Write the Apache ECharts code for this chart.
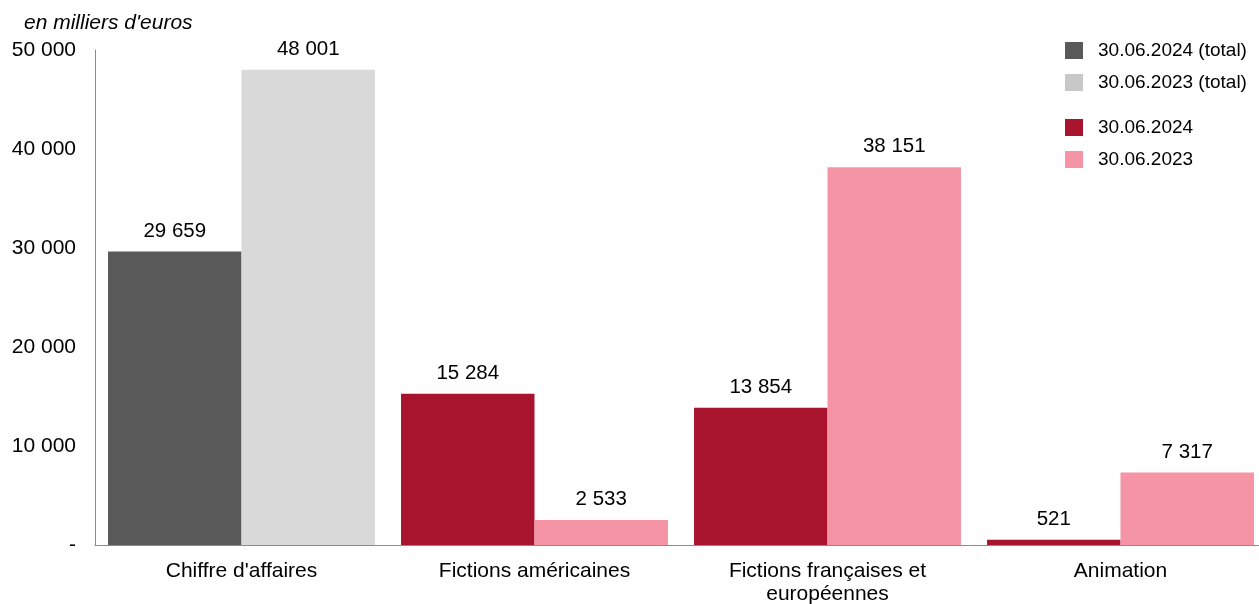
<!DOCTYPE html>
<html><head><meta charset="utf-8">
<script src="https://cdn.jsdelivr.net/npm/echarts@6/dist/echarts.min.js"></script>
<style>html,body{margin:0;padding:0;background:#fff;overflow:hidden}#c{width:1259px;height:604px}</style>
</head><body><div id="c"></div>
<script>
const categories = ["Chiffre d'affaires", "Fictions américaines", "Fictions françaises et\neuropéennes", "Animation"];
const total2024 = [29659, '-', '-', '-'];
const total2023 = [48001, '-', '-', '-'];
const val2024 = ['-', 15284, 13854, 521];
const val2023 = ['-', 2533, 38151, 7317];
const yTicks = [0, 10000, 20000, 30000, 40000, 50000];

const fmt = v => v === 0 ? '-' : String(v).replace(/\B(?=(\d{3})+(?!\d))/g, ' ');
const font = 'Liberation Sans, Arial, sans-serif';
const lbl = {show: true, position: 'top', distance: 10, color: '#000', fontSize: 20.5, fontFamily: font, formatter: p => fmt(p.value)};

const chart = echarts.init(document.getElementById('c'), null, {renderer: 'canvas'});
chart.setOption({
  animation: false,
  title: {text: 'en milliers d\'euros', left: 19, top: 8, textStyle: {fontStyle: 'italic', fontWeight: 'normal', fontSize: 21, color: '#000', fontFamily: font}},
  legend: [
    {data: [{name: '30.06.2024 (total)'}, {name: '30.06.2023 (total)', itemStyle: {color: '#c8c8c8'}}], orient: 'vertical', left: 1060, top: 36, itemWidth: 18, itemHeight: 17, itemGap: 13, icon: 'rect', textStyle: {fontSize: 19, color: '#000', fontFamily: font, padding: [0, 0, 0, 10]}},
    {data: ['30.06.2024', '30.06.2023'], orient: 'vertical', left: 1060, top: 113, itemWidth: 18, itemHeight: 17, itemGap: 13, icon: 'rect', textStyle: {fontSize: 19, color: '#000', fontFamily: font, padding: [0, 0, 0, 10]}}
  ],
  grid: {left: 95, width: 1172, top: 50, bottom: 59, containLabel: false, outerBoundsMode: 'none'},
  xAxis: {
    type: 'category', data: categories,
    axisLine: {lineStyle: {color: '#8c8c8c', width: 1}}, axisTick: {show: false},
    axisLabel: {color: '#000', fontSize: 21, fontFamily: font, margin: 15, lineHeight: 23, interval: 0}
  },
  yAxis: {
    type: 'value', min: yTicks[0], max: yTicks[yTicks.length - 1], interval: 10000,
    axisLine: {show: true, lineStyle: {color: '#8c8c8c', width: 1}}, axisTick: {show: false}, splitLine: {show: false},
    axisLabel: {color: '#000', fontSize: 21, fontFamily: font, margin: 19, formatter: fmt}
  },
  series: [
    {name: '30.06.2024 (total)', type: 'bar', stack: 'a', data: total2024, itemStyle: {color: '#595959'}, label: lbl, barGap: '0%', barCategoryGap: '8.9%'},
    {name: '30.06.2023 (total)', type: 'bar', stack: 'b', data: total2023, itemStyle: {color: '#d9d9d9'}, label: lbl, barGap: '0%', barCategoryGap: '8.9%'},
    {name: '30.06.2024', type: 'bar', stack: 'a', data: val2024, itemStyle: {color: '#a8132e'}, label: lbl, barGap: '0%', barCategoryGap: '8.9%'},
    {name: '30.06.2023', type: 'bar', stack: 'b', data: val2023, itemStyle: {color: '#f494a5'}, label: lbl, barGap: '0%', barCategoryGap: '8.9%'}
  ]
});
</script></body></html>
